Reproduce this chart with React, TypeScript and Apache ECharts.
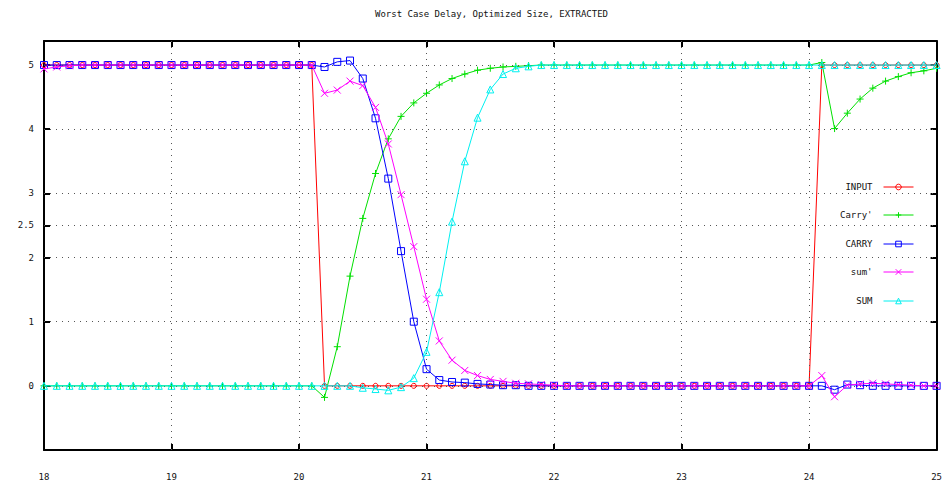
import React, { useEffect, useRef } from "react";
import * as echarts from "echarts";

const titleText = "Worst Case Delay, Optimized Size, EXTRACTED";

// time grid: 18.0 .. 25.0 in steps of 0.1 (71 samples)
const times: number[] = Array.from({ length: 71 }, (_, i) => Math.round((18 + i * 0.1) * 10) / 10);

const inputVals = [
  5, 5, 5, 5, 5, 5, 5, 5, 5, 5,
  5, 5, 5, 5, 5, 5, 5, 5, 5, 5,
  5, 5, 0, 0, 0, 0, 0, 0, 0, 0,
  0, 0, 0, 0, 0, 0, 0, 0, 0, 0,
  0, 0, 0, 0, 0, 0, 0, 0, 0, 0,
  0, 0, 0, 0, 0, 0, 0, 0, 0, 0,
  0, 5, 5, 5, 5, 5, 5, 5, 5, 5,
  5,
];

const carryPrimeVals = [
  0, 0, 0, 0, 0, 0, 0, 0, 0, 0,
  0, 0, 0, 0, 0, 0, 0, 0, 0, 0,
  0, 0, -0.18, 0.61, 1.71, 2.61, 3.31, 3.85, 4.2, 4.41,
  4.56, 4.69, 4.79, 4.86, 4.92, 4.95, 4.97, 4.98, 4.99, 5,
  5, 5, 5, 5, 5, 5, 5, 5, 5, 5,
  5, 5, 5, 5, 5, 5, 5, 5, 5, 5,
  5, 5.04, 4.01, 4.25, 4.47, 4.64, 4.75, 4.82, 4.88, 4.91,
  4.95,
];

const carryVals = [
  5, 5, 5, 5, 5, 5, 5, 5, 5, 5,
  5, 5, 5, 5, 5, 5, 5, 5, 5, 5,
  5, 5, 4.97, 5.05, 5.07, 4.79, 4.17, 3.23, 2.1, 1.0,
  0.26, 0.09, 0.06, 0.05, 0.03, 0.02, 0.01, 0.01, 0, 0,
  0, 0, 0, 0, 0, 0, 0, 0, 0, 0,
  0, 0, 0, 0, 0, 0, 0, 0, 0, 0,
  0, 0, -0.06, 0.02, 0.01, 0, 0, 0, 0, 0,
  0,
];

const sumPrimeVals = [
  4.94, 4.97, 4.99, 5, 5, 5, 5, 5, 5, 5,
  5, 5, 5, 5, 5, 5, 5, 5, 5, 5,
  5, 5, 4.56, 4.61, 4.75, 4.68, 4.34, 3.77, 2.98, 2.17,
  1.35, 0.7, 0.4, 0.24, 0.16, 0.1, 0.07, 0.04, 0.03, 0.02,
  0.01, 0, 0, 0, 0, 0, 0, 0, 0, 0,
  0, 0, 0, 0, 0, 0, 0, 0, 0, 0,
  0, 0.16, -0.17, 0.01, 0.03, 0.04, 0.03, 0.02, 0.01, 0,
  0,
];

const sumVals = [
  0, 0, 0, 0, 0, 0, 0, 0, 0, 0,
  0, 0, 0, 0, 0, 0, 0, 0, 0, 0,
  0, 0, 0, 0, 0, -0.03, -0.05, -0.07, -0.02, 0.12,
  0.53, 1.46, 2.56, 3.5, 4.18, 4.62, 4.86, 4.95, 4.98, 5,
  5, 5, 5, 5, 5, 5, 5, 5, 5, 5,
  5, 5, 5, 5, 5, 5, 5, 5, 5, 5,
  5, 5, 5, 5, 5, 5, 5, 5, 5, 5,
  5,
];

const seriesNames = ["INPUT", "Carry'", "CARRY", "sum'", "SUM"];
const seriesValues = [inputVals, carryPrimeVals, carryVals, sumPrimeVals, sumVals];
const seriesColors = ["#ff0000", "#00e000", "#0000ff", "#ff00ff", "#00f0f0"];
const seriesSymbols = [
  "circle",
  "path://M0,5L10,5M5,0L5,10",
  "rect",
  "path://M0,0L10,10M10,0L0,10",
  "triangle",
];
const seriesSymbolSizes = [5, 7, 7, 7, 7];

const yTickValues = [0, 1, 2, 2.5, 3, 4, 5];
const xGridValues = [19, 20, 21, 22, 23, 24];
const legendRowCenters = [186, 214, 243, 271, 300];

const FONT = "'DejaVu Sans Mono', monospace";

export default function App() {
  const ref = useRef<HTMLDivElement>(null);

  useEffect(() => {
    document.body.style.margin = "0";
    if (!ref.current) return;
    const chart = echarts.init(ref.current, undefined, { renderer: "svg" });

    const lineSeries = seriesNames.map((name, k) => ({
      name,
      type: "line",
      data: times.map((t, i) => [t, seriesValues[k][i]]),
      symbol: seriesSymbols[k],
      symbolSize: seriesSymbolSizes[k],
      showSymbol: true,
      showAllSymbol: true,
      itemStyle: { color: "rgba(0,0,0,0)", borderColor: seriesColors[k], borderWidth: 1 },
      lineStyle: { color: seriesColors[k], width: 1 },
      emphasis: { disabled: true },
      z: 3 + k,
    }));

    const gridSeries = {
      name: "__grid",
      type: "line",
      data: [],
      silent: true,
      z: 1,
      markLine: {
        silent: true,
        animation: false,
        symbol: ["none", "none"],
        label: { show: false },
        emphasis: { disabled: true },
        lineStyle: { color: "#555555", type: [1, 5], width: 1 },
        data: [
          ...xGridValues.map((v) => ({ xAxis: v })),
          ...yTickValues.map((v) => ({ yAxis: v })),
        ],
      },
    };

    const axisLine = { show: true, onZero: false, lineStyle: { color: "#000", width: 2 } };
    const axisTick = { show: true, inside: true, length: 6, lineStyle: { color: "#000", width: 2 } };

    const option = {
      animation: false,
      backgroundColor: "#ffffff",
      title: {
        text: titleText,
        left: 375,
        top: 9,
        padding: 0,
        textStyle: { fontFamily: FONT, fontSize: 9, fontWeight: "normal", color: "#111" },
      },
      grid: { left: 44, right: 7, top: 41, bottom: 36, containLabel: false },
      legend: seriesNames.map((name, k) => ({
        data: [name],
        orient: "vertical",
        align: "right",
        right: 31,
        top: legendRowCenters[k] - 3.5,
        itemWidth: 30,
        itemHeight: 7,
        padding: 0,
        selectedMode: false,
        lineStyle: { width: 1 },
        itemStyle: { color: "rgba(0,0,0,0)", borderWidth: 1 },
        textStyle: { fontFamily: FONT, fontSize: 9, color: "#111", padding: [0, 6, 0, 0] },
      })),
      xAxis: [
        {
          type: "value",
          min: 18,
          max: 25,
          interval: 1,
          position: "bottom",
          axisLine,
          axisTick,
          splitLine: { show: false },
          axisLabel: { fontFamily: FONT, fontSize: 9, color: "#111", margin: 22 },
        },
        {
          type: "value",
          min: 18,
          max: 25,
          interval: 1,
          position: "top",
          axisLine,
          axisTick,
          splitLine: { show: false },
          axisLabel: { show: false },
        },
      ],
      yAxis: [
        {
          type: "value",
          min: -1,
          max: 5.375,
          position: "left",
          axisLine,
          axisTick: { ...axisTick, customValues: yTickValues },
          splitLine: { show: false },
          axisLabel: { fontFamily: FONT, fontSize: 9, color: "#111", margin: 10, customValues: yTickValues },
        },
        {
          type: "value",
          min: -1,
          max: 5.375,
          position: "right",
          axisLine,
          axisTick: { ...axisTick, customValues: yTickValues },
          splitLine: { show: false },
          axisLabel: { show: false, customValues: yTickValues },
        },
      ],
      series: [gridSeries, ...lineSeries],
    };

    chart.setOption(option as any);
    return () => chart.dispose();
  }, []);

  return <div ref={ref} style={{ width: 945, height: 486 }} />;
}
